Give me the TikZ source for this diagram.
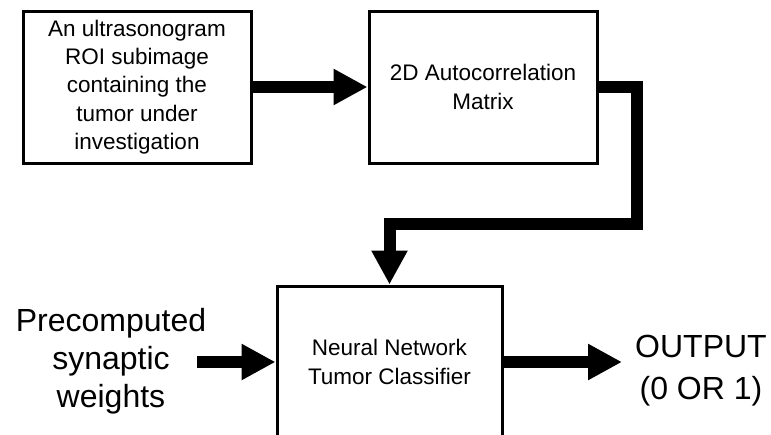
\documentclass[tikz,border=0pt]{standalone}
\usepackage{fontspec}
\setmainfont{Liberation Sans}
\usetikzlibrary{arrows.meta}
\tikzset{
  block/.style={draw, line width=3pt, line join=miter, fill=white,
    minimum width=228pt, minimum height=152pt, align=center,
    inner sep=0pt, font=\fontsize{22.5}{28.4}\selectfont},
  bigtext/.style={align=center, inner sep=0pt},
  flow/.style={line width=12pt, line join=miter,
    -{Triangle[length=34pt,width=34pt]}}
}
\begin{document}
\begin{tikzpicture}[x=1pt,y=-1pt]
  \useasboundingbox (0,0) rectangle (771,434);
  % processing blocks
  \node[block] (roi) at (137,87) {An ultrasonogram\\ROI subimage\\containing the\\tumor under\\investigation};
  \node[block] (acm) at (483,87) {2D Autocorrelation\\Matrix};
  \node[block, minimum width=225pt, minimum height=152pt] (nn) at (389.5,362) {Neural Network\\Tumor Classifier};
  % external input and output labels
  \node[bigtext, font=\fontsize{32}{38}\selectfont] (wts) at (111,361) {Precomputed\\synaptic\\weights};
  \node[bigtext, font=\fontsize{32}{42}\selectfont] (res) at (701,371) {OUTPUT\\(0 OR 1)};
  \coordinate (wstart) at (197,362);
  \coordinate (oend) at (622,362);
  % data flow
  \draw[flow] (roi.east) -- (acm.west);
  \draw[flow] (acm.east) -- (636.5,87) -- (636.5,224) -- (nn.north |- 0,224) -- (nn.north);
  \draw[flow] (wstart) -- (nn.west);
  \draw[flow] (nn.east) -- (oend);
\end{tikzpicture}
\end{document}
